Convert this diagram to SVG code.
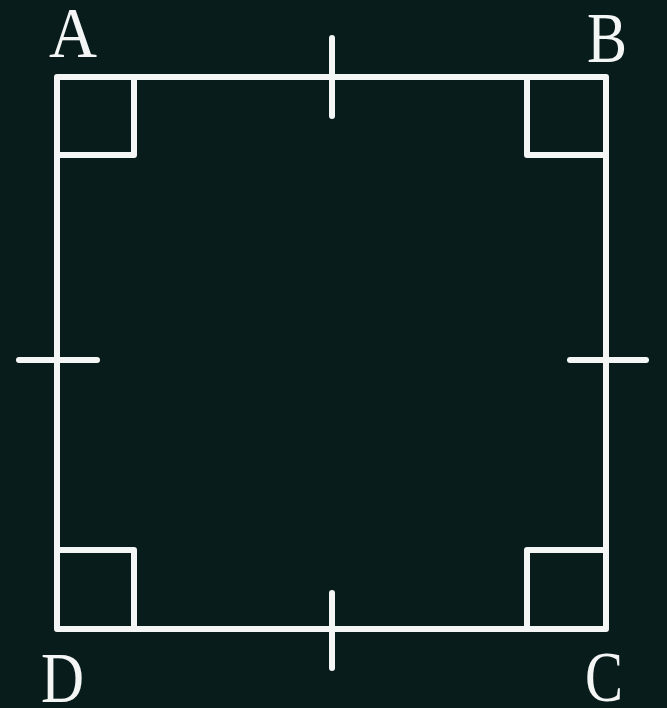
<svg xmlns="http://www.w3.org/2000/svg" width="667" height="708" viewBox="0 0 667 708">
  <style>
    .ln { fill: none; stroke: #f4f6f5; stroke-width: 6; stroke-linejoin: round; }
    .tk { fill: none; stroke: #f4f6f5; stroke-width: 6; stroke-linecap: round; }
    .lbl { font-family: "Liberation Serif", "Times New Roman", Tinos, "Noto Serif", serif; font-size: 72px; fill: #f4f6f5; }
  </style>
  <rect x="0" y="0" width="667" height="708" fill="#081c1c"/>
  <g id="square">
    <path class="ln" d="M57,77 H606 V629 H57 Z"/>
  </g>
  <g id="right-angles">
    <path class="ln" d="M57,155 H134 V77"/>
    <path class="ln" d="M527,77 V155 H606"/>
    <path class="ln" d="M57,550 H134 V629"/>
    <path class="ln" d="M527,629 V550 H606"/>
  </g>
  <g id="ticks">
    <line class="tk" x1="332" y1="38" x2="332" y2="116"/>
    <line class="tk" x1="19" y1="360" x2="97" y2="360"/>
    <line class="tk" x1="570" y1="360" x2="646" y2="360"/>
    <line class="tk" x1="332" y1="593" x2="332" y2="668"/>
  </g>
  <g id="labels">
    <text class="lbl" x="49" y="57" textLength="48" lengthAdjust="spacingAndGlyphs">A</text>
    <text class="lbl" x="587" y="62" textLength="40" lengthAdjust="spacingAndGlyphs">B</text>
    <text class="lbl" x="585" y="701" textLength="38" lengthAdjust="spacingAndGlyphs">C</text>
    <text class="lbl" x="41" y="702" textLength="43" lengthAdjust="spacingAndGlyphs">D</text>
  </g>
</svg>
